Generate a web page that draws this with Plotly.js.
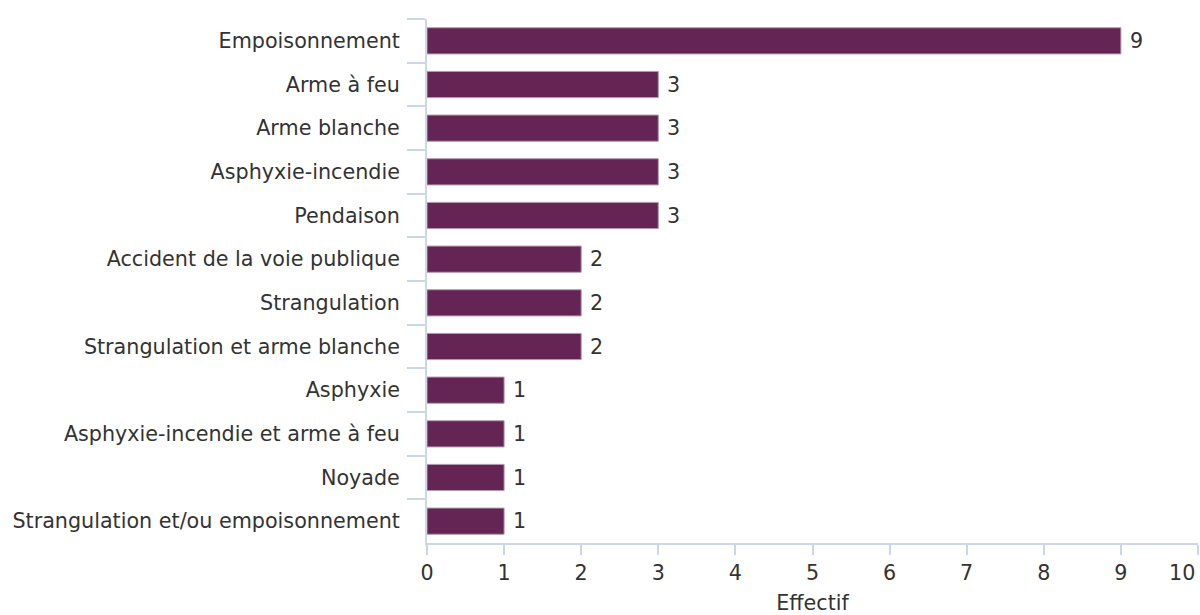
<!DOCTYPE html>
<html>
<head>
<meta charset="utf-8">
<script src="https://cdn.plot.ly/plotly-3.0.1.min.js"></script>
<style>html,body{margin:0;padding:0;background:#fff;}#chart{width:1200px;height:615px;}</style>
</head>
<body>
<div id="chart"></div>
<script>
const categories = [
  "Empoisonnement",
  "Arme à feu",
  "Arme blanche",
  "Asphyxie-incendie",
  "Pendaison",
  "Accident de la voie publique",
  "Strangulation",
  "Strangulation et arme blanche",
  "Asphyxie",
  "Asphyxie-incendie et arme à feu",
  "Noyade",
  "Strangulation et/ou empoisonnement"
];
const values = [9, 3, 3, 3, 3, 2, 2, 2, 1, 1, 1, 1];
const xTicks = [0, 1, 2, 3, 4, 5, 6, 7, 8, 9, 10];
const xTitle = "Effectif";

const font = "DejaVu Sans, Verdana, sans-serif";
const fsize = 20.7;
const axisColor = "#ccd6eb";
const textColor = "#333333";

const trace = {
  type: "bar",
  orientation: "h",
  y: categories,
  x: values,
  marker: {color: "#642454", line: {color: "#b59ab0", width: 1}},
  hoverinfo: "x+y"
};

const lastTick = xTicks[xTicks.length - 1];

const annotations = values.map((v, i) => ({
  x: v, y: categories[i], xref: "x", yref: "y",
  text: String(v), showarrow: false, xanchor: "left", xshift: 7,
  font: {family: font, size: fsize, color: textColor}
}));
// last x tick label, pulled inside the page edge
annotations.push({
  x: lastTick, y: 0, xref: "x", yref: "paper",
  text: String(lastTick), showarrow: false, xanchor: "right", yanchor: "top",
  xshift: -1, yshift: -16,
  font: {family: font, size: fsize, color: textColor}
});

const layout = {
  width: 1200, height: 615,
  margin: {l: 427, r: 2, t: 19, b: 72},
  paper_bgcolor: "#ffffff", plot_bgcolor: "#ffffff",
  bargap: 0.4,
  showlegend: false,
  font: {family: font, size: fsize, color: textColor},
  xaxis: {
    range: [0, lastTick], tickvals: xTicks,
    ticktext: xTicks.map(t => t === lastTick ? "" : String(t)),
    showgrid: false, zeroline: false,
    showline: true, linecolor: axisColor, linewidth: 2,
    ticks: "outside", ticklen: 10, tickcolor: axisColor, tickwidth: 2,
    tickfont: {family: font, size: fsize, color: textColor},
    title: {text: xTitle, font: {family: font, size: fsize, color: textColor}, standoff: 20}
  },
  yaxis: {
    type: "category", autorange: "reversed",
    showgrid: false, zeroline: false,
    showline: true, linecolor: axisColor, linewidth: 2,
    ticks: "outside", ticklen: 18, tickcolor: axisColor, tickwidth: 2,
    tickson: "boundaries",
    ticklabelstandoff: 21,
    tickfont: {family: font, size: fsize, color: textColor}
  },
  annotations: annotations
};

Plotly.newPlot("chart", [trace], layout, {displayModeBar: false, staticPlot: true});
</script>
</body>
</html>
